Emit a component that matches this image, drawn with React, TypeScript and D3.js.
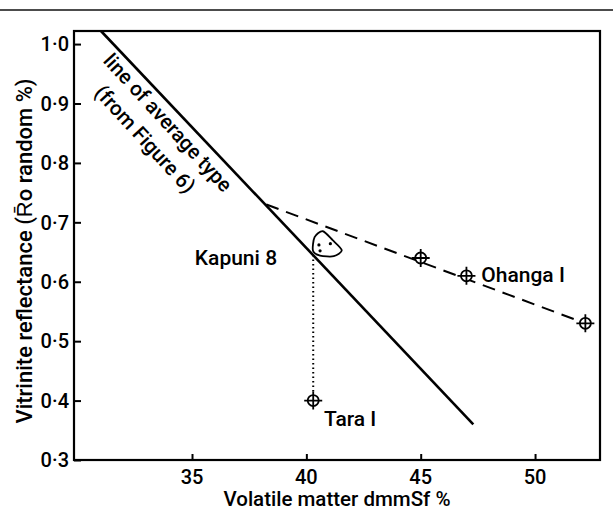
import React, { useEffect, useRef } from "react";
import * as d3 from "d3";

// axis ticks
const xTicks = [35, 40, 45, 50];
const yTicks = [0.3, 0.4, 0.5, 0.6, 0.7, 0.8, 0.9, 1.0];

// line of average type (from Figure 6)
const averageLine = [
  { x: 31.02, y: 1.022 },
  { x: 47.3, y: 0.36 },
];

// Ohanga 1 trend (dashed)
const ohangaLine = [
  { x: 38.25, y: 0.73 },
  { x: 52.2, y: 0.53 },
];

// crosshair samples
const ohangaPoints = [
  { x: 45, y: 0.64 },
  { x: 47, y: 0.61 },
  { x: 52.2, y: 0.53 },
];
const taraPoint = { x: 40.3, y: 0.4 };

// dotted drop from Kapuni 8 to Tara 1
const dropLine = [
  { x: 40.3, y: 0.645 },
  { x: 40.3, y: 0.415 },
];

// Kapuni 8 field outline and its dots
const kapuniOutline = [
  { x: 40.29, y: 0.652 },
  { x: 40.36, y: 0.675 },
  { x: 40.72, y: 0.685 },
  { x: 41.15, y: 0.67 },
  { x: 41.55, y: 0.653 },
  { x: 41.2, y: 0.643 },
  { x: 40.6, y: 0.644 },
];
const kapuniDots = [
  { x: 40.55, y: 0.662 },
  { x: 41.05, y: 0.664 },
  { x: 40.6, y: 0.652 },
];

const labels = [
  { text: "Kapuni 8", x: 38.72, y: 0.628, anchor: "end" },
  { text: "Ohanga I", x: 47.65, y: 0.6, anchor: "start" },
  { text: "Tara I", x: 40.77, y: 0.357, anchor: "start" },
];

const rotatedLabels = [
  { text: "line of average type", x: 33.95, y: 0.868 },
  { text: "(from Figure 6)", x: 32.95, y: 0.84 },
];

const App = () => {
  const svgRef = useRef<SVGSVGElement>(null);

  useEffect(() => {
    const W = 613;
    const H = 516;
    const margin = { top: 31, right: 13, bottom: 56, left: 74 };
    const width = W - margin.left - margin.right;
    const height = H - margin.top - margin.bottom;
    const font = "Roboto, sans-serif";

    const root = d3.select(svgRef.current);
    root.selectAll("*").remove();
    root.attr("width", W).attr("height", H);

    root.append("rect").attr("width", W).attr("height", H).attr("fill", "#fff");

    // scan rule at the top of the page
    root
      .append("line")
      .attr("x1", 0)
      .attr("x2", W)
      .attr("y1", 10)
      .attr("y2", 10)
      .attr("stroke", "#111")
      .attr("stroke-width", 1.5);

    const svg = root
      .append("g")
      .attr("transform", `translate(${margin.left},${margin.top})`);

    const x = d3.scaleLinear().domain([29.84, 52.84]).range([0, width]);
    const y = d3.scaleLinear().domain([0.3, 1.022]).range([height, 0]);

    // frame
    svg
      .append("rect")
      .attr("width", width)
      .attr("height", height)
      .attr("fill", "none")
      .attr("stroke", "#000")
      .attr("stroke-width", 2.2);

    // axes (ticks inward)
    const fmt = (d: number) => d.toFixed(1).replace(".", "\u00b7");
    const yAxis = svg
      .append("g")
      .call(d3.axisRight(y).tickValues(yTicks).tickSize(7).tickFormat(() => ""));
    yAxis.select(".domain").remove();
    yAxis.selectAll("line").attr("stroke-width", 2);
    svg
      .append("g")
      .selectAll("text")
      .data(yTicks)
      .join("text")
      .attr("x", -5)
      .attr("y", (d) => y(d))
      .attr("dy", "0.36em")
      .attr("text-anchor", "end")
      .attr("font-family", font)
      .attr("font-weight", 500)
      .attr("font-size", 20)
      .text(fmt);

    const xAxis = svg
      .append("g")
      .attr("transform", `translate(0,${height})`)
      .call(d3.axisTop(x).tickValues(xTicks).tickSize(6).tickFormat(() => ""));
    xAxis.select(".domain").remove();
    xAxis.selectAll("line").attr("stroke-width", 2);
    svg
      .append("g")
      .selectAll("text")
      .data(xTicks)
      .join("text")
      .attr("x", (d) => x(d))
      .attr("y", height + 24)
      .attr("text-anchor", "middle")
      .attr("font-family", font)
      .attr("font-weight", 500)
      .attr("font-size", 20)
      .text((d) => d);

    // axis titles
    svg
      .append("text")
      .attr("x", 263)
      .attr("y", height + 46)
      .attr("text-anchor", "middle")
      .attr("font-family", font)
      .attr("font-weight", 500)
      .attr("font-size", 20.5)
      .text("Volatile matter dmmSf %");
    svg
      .append("text")
      .attr("transform", `translate(-42,${220}) rotate(-90)`)
      .attr("text-anchor", "middle")
      .attr("font-family", font)
      .attr("font-weight", 500)
      .attr("font-size", 22)
      .text("Vitrinite reflectance (R\u0304o random %)");

    const line = d3
      .line<{ x: number; y: number }>()
      .x((d) => x(d.x))
      .y((d) => y(d.y));

    svg
      .append("path")
      .datum(averageLine)
      .attr("fill", "none")
      .attr("stroke", "#000")
      .attr("stroke-width", 2.6)
      .attr("d", line);

    svg
      .append("path")
      .datum(ohangaLine)
      .attr("fill", "none")
      .attr("stroke", "#000")
      .attr("stroke-width", 2)
      .attr("stroke-dasharray", "13 8")
      .attr("d", line);

    svg
      .append("path")
      .datum(dropLine)
      .attr("fill", "none")
      .attr("stroke", "#000")
      .attr("stroke-width", 2)
      .attr("stroke-dasharray", "1.5 3")
      .attr("d", line);

    // Kapuni 8 field
    svg
      .append("path")
      .datum(kapuniOutline)
      .attr("fill", "#fff")
      .attr("stroke", "#000")
      .attr("stroke-width", 1.8)
      .attr("d", line.curve(d3.curveCardinalClosed.tension(0.2)));
    line.curve(d3.curveLinear);
    svg
      .append("g")
      .selectAll("circle")
      .data(kapuniDots)
      .join("circle")
      .attr("cx", (d) => x(d.x))
      .attr("cy", (d) => y(d.y))
      .attr("r", 1.6)
      .attr("fill", "#000");

    // crosshair markers
    const markers = svg
      .append("g")
      .selectAll("g")
      .data([...ohangaPoints, taraPoint])
      .join("g")
      .attr("transform", (d) => `translate(${x(d.x)},${y(d.y)})`);
    markers
      .append("circle")
      .attr("r", 5.5)
      .attr("fill", "#fff")
      .attr("stroke", "#000")
      .attr("stroke-width", 1.8);
    markers
      .append("path")
      .attr("d", "M-9,0H9M0,-9V9")
      .attr("stroke", "#000")
      .attr("stroke-width", 1.8);

    // labels
    svg
      .append("g")
      .selectAll("text")
      .data(labels)
      .join("text")
      .attr("x", (d) => x(d.x))
      .attr("y", (d) => y(d.y))
      .attr("text-anchor", (d) => d.anchor)
      .attr("font-family", font)
      .attr("font-weight", 500)
      .attr("font-size", 21)
      .text((d) => d.text);

    svg
      .append("g")
      .selectAll("text")
      .data(rotatedLabels)
      .join("text")
      .attr("transform", (d) => `translate(${x(d.x)},${y(d.y)}) rotate(47.5)`)
      .attr("text-anchor", "middle")
      .attr("dy", "0.35em")
      .attr("font-family", font)
      .attr("font-weight", 500)
      .attr("font-size", 20.5)
      .text((d) => d.text);
  }, []);

  return (
    <svg
      ref={svgRef}
      style={{ position: "absolute", left: 0, top: 0, display: "block" }}
    ></svg>
  );
};

export default App;
